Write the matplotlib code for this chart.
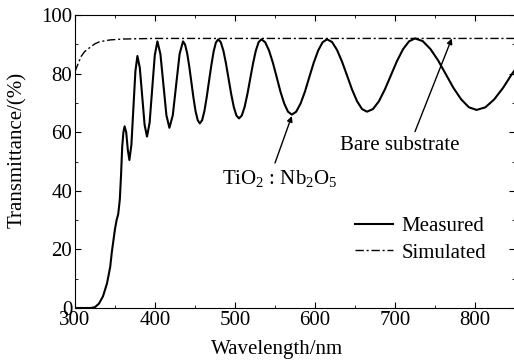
import matplotlib
matplotlib.use("Agg")
import matplotlib.pyplot as plt
from matplotlib.ticker import MultipleLocator

# measured transmittance of the TiO2:Nb2O5 film
wl_meas = [300, 320, 325, 330, 335, 340, 344, 346, 348, 350, 352, 354, 356, 357.5, 359, 360.5,
           362, 364, 366, 368, 370.5, 373, 375.5, 378, 381, 384, 387, 390,
           393.25, 396.5, 399.75, 403, 406.75, 410.5, 414.25, 418,
           422.25, 426.5, 430.75, 435,
           437.6, 440.25, 442.9, 445.5, 448.1, 450.75, 453.4, 456,
           458.9, 461.75, 464.6, 467.5, 470.4, 473.25, 476.1, 479,
           482.25, 485.5, 488.75, 492, 495.25, 498.5, 501.75, 505,
           508.5, 512, 515.5, 519, 522.5, 526, 529.5, 533,
           537.75, 542.5, 547.25, 552, 556.75, 561.5, 566.25, 571,
           576.5, 582, 587.5, 593, 598.5, 604, 609.5, 615,
           621.25, 627.5, 633.75, 640, 646.25, 652.5, 658.75, 665,
           672.5, 680, 687.5, 695, 702.5, 710, 717.5, 725,
           734.6, 744.25, 753.9, 763.5, 773.1, 782.75, 792.4, 802,
           813, 824, 835, 846, 850]
t_meas = [0, 0, 0.3, 1.5, 4, 8.4, 14, 19, 23, 27, 30, 32, 37, 45, 55, 60,
          62, 60, 54, 50.5, 55.7, 68.3, 80.8, 86, 82, 72.3, 62.5, 58.5,
          63.2, 74.8, 86.3, 91, 86.7, 76.3, 65.8, 61.5,
          65.8, 76.3, 86.7, 91,
          89.9, 86.9, 82.3, 77, 71.7, 67.1, 64.1, 63,
          64.1, 67.2, 71.9, 77.4, 82.8, 87.5, 90.6, 91.7,
          90.7, 87.8, 83.4, 78.2, 73.0, 68.6, 65.7, 64.7,
          65.7, 68.6, 73.0, 78.2, 83.4, 87.8, 90.7, 91.7,
          90.7, 87.9, 83.8, 78.9, 73.9, 69.8, 67.0, 66,
          67.0, 69.8, 73.9, 78.9, 83.8, 87.9, 90.7, 91.7,
          90.8, 88.1, 84.1, 79.4, 74.6, 70.6, 67.9, 67,
          67.9, 70.6, 74.7, 79.5, 84.3, 88.3, 91.0, 92,
          91.1, 88.4, 84.5, 79.8, 75.1, 71.2, 68.5, 67.6,
          68.5, 71.2, 75.1, 79.8, 81.3]

# simulated bare substrate
wl_sim = [300, 304, 308, 312, 319, 325, 331, 344, 360, 400, 500, 600, 700, 850]
t_sim = [80.7, 83.5, 86, 87.5, 89, 90.2, 90.9, 91.5, 91.8, 92, 92, 92, 92, 92]

plt.rcParams['font.family'] = ['Liberation Serif', 'DejaVu Serif']
plt.rcParams['mathtext.fontset'] = 'custom'
plt.rcParams['mathtext.rm'] = 'Liberation Serif'
plt.rcParams['font.size'] = 15

fig = plt.figure(figsize=(5.14, 3.62), dpi=100)
ax = fig.add_axes([75 / 514, 54 / 362, 440 / 514, 293 / 362])

ax.plot(wl_meas, t_meas, color='black', lw=1.5, label='Measured')
ax.plot(wl_sim, t_sim, color='black', lw=1.0, linestyle=(0, (6, 2, 1.5, 2)), label='Simulated')

ax.set_xlim(300, 850)
ax.set_ylim(0, 100)
ax.xaxis.set_major_locator(MultipleLocator(100))
ax.xaxis.set_minor_locator(MultipleLocator(50))
ax.yaxis.set_major_locator(MultipleLocator(20))
ax.yaxis.set_minor_locator(MultipleLocator(10))
ax.tick_params(which='both', direction='in', top=True, right=True, labelsize=15, pad=2)
ax.tick_params(which='major', length=4)
ax.tick_params(which='minor', length=2.5)

ax.set_xlabel('Wavelength/nm', fontsize=15)
ax.set_ylabel('Transmittance/(%)', fontsize=15)
ax.xaxis.set_label_coords(0.46, -0.11)
ax.yaxis.set_label_coords(-0.109, 0.54)

# labels with arrows
ax.text(556, 44, r'TiO$_2$ : Nb$_2$O$_5$', ha='center', va='center', fontsize=15)
ax.annotate('', xy=(571, 65.5), xytext=(550, 49.5),
            arrowprops=dict(arrowstyle='-|>', color='black', lw=1, mutation_scale=8,
                            shrinkA=0, shrinkB=0))
ax.text(706, 55.6, 'Bare substrate', ha='center', va='center', fontsize=15)
ax.annotate('', xy=(771, 92), xytext=(725, 60.2),
            arrowprops=dict(arrowstyle='-|>', color='black', lw=1, mutation_scale=8,
                            shrinkA=0, shrinkB=0))

ax.legend(loc='center left', bbox_to_anchor=(345 / 514, 1 - 239.5 / 362),
          bbox_transform=fig.transFigure, frameon=False, fontsize=15,
          handlelength=1.8, handletextpad=0.4, labelspacing=0.35, borderpad=0)

fig.savefig('out.png', dpi=100)
